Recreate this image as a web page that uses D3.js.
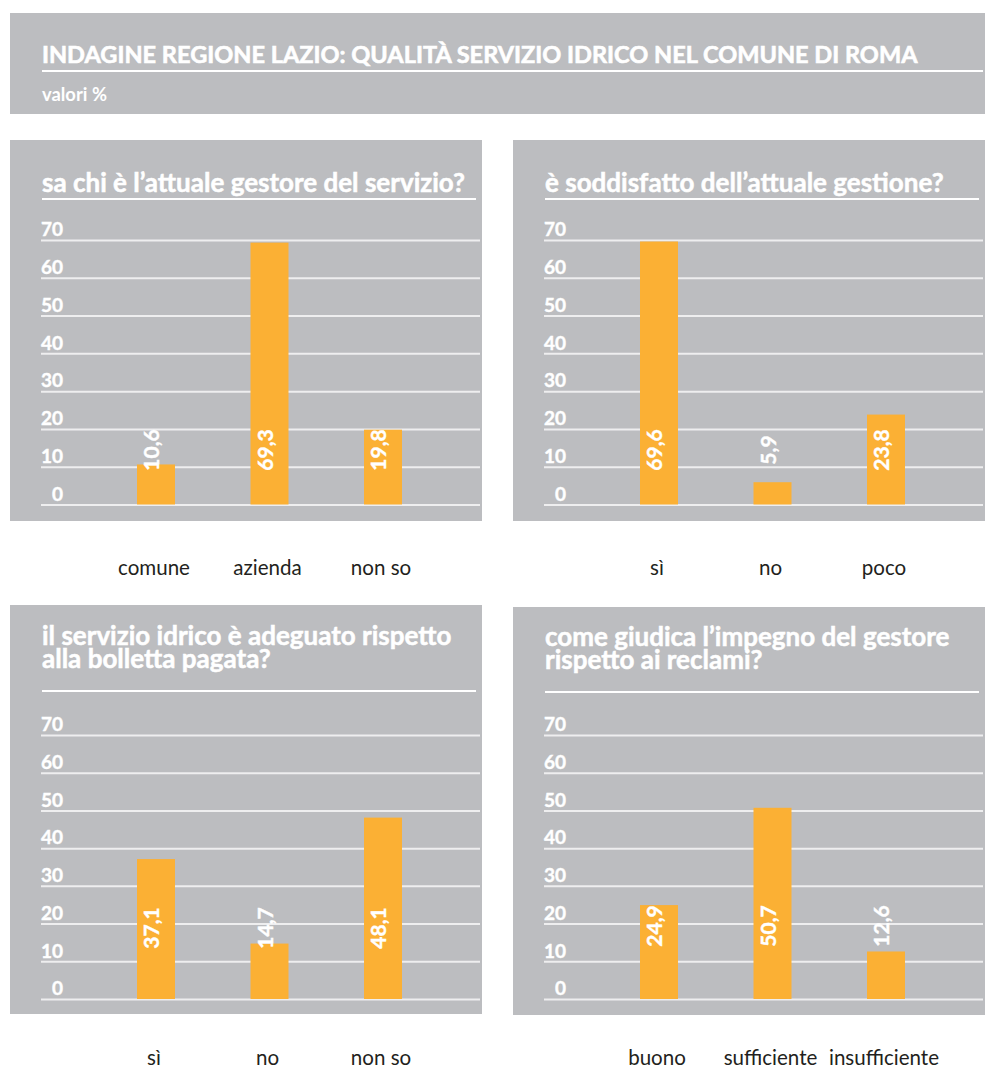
<!DOCTYPE html>
<html>
<head>
<meta charset="utf-8">
<script src="https://cdn.jsdelivr.net/npm/d3@7"></script>
<style>
  html, body { margin: 0; padding: 0; background: #ffffff; }
  svg { display: block; }
</style>
</head>
<body>
<svg id="chart" width="985" height="1070"></svg>
<script>
// ---------------- DATA ----------------
const mainTitle = "INDAGINE REGIONE LAZIO: QUALITÀ SERVIZIO IDRICO NEL COMUNE DI ROMA";
const subTitle = "valori %";

const title1 = ["sa chi è l’attuale gestore del servizio?"];
const categories1 = ["comune", "azienda", "non so"];
const values1 = [10.6, 69.3, 19.8];

const title2 = ["è soddisfatto dell’attuale gestione?"];
const categories2 = ["sì", "no", "poco"];
const values2 = [69.6, 5.9, 23.8];

const title3 = ["il servizio idrico è adeguato rispetto", "alla bolletta pagata?"];
const categories3 = ["sì", "no", "non so"];
const values3 = [37.1, 14.7, 48.1];

const title4 = ["come giudica l’impegno del gestore", "rispetto ai reclami?"];
const categories4 = ["buono", "sufficiente", "insufficiente"];
const values4 = [24.9, 50.7, 12.6];

const yTicks = [0, 10, 20, 30, 40, 50, 60, 70];
const yMax = 70;

// ---------------- LAYOUT / STYLE ----------------
const GRAY = "#bcbdc0";
const ORANGE = "#fbb034";
const WHITE = "#ffffff";
const GRID = "#eeeeef";
const DARK = "#231f20";
const FONT = "Lato, 'Open Sans', 'DejaVu Sans', sans-serif";

const panels = [
  { title: title1, cats: categories1, vals: values1,
    x: 10, y: 140, w: 472, h: 381, titleBase: 192, ul: 199, y0: 504.5, yTop: 240, labelMid: 450, catBase: 575 },
  { title: title2, cats: categories2, vals: values2,
    x: 513, y: 140, w: 472, h: 381, titleBase: 192, ul: 199, y0: 504.5, yTop: 240, labelMid: 450, catBase: 575 },
  { title: title3, cats: categories3, vals: values3,
    x: 10, y: 605, w: 472, h: 409, titleBase: 645, ul: 691, y0: 999, yTop: 735, labelMid: 928, catBase: 1065 },
  { title: title4, cats: categories4, vals: values4,
    x: 513, y: 607, w: 472, h: 408, titleBase: 646, ul: 692, y0: 999, yTop: 735, labelMid: 926, catBase: 1065 }
];

const it = d3.formatLocale({ decimal: ",", thousands: ".", grouping: [3], currency: ["€", ""] });
const fmt = it.format(".1f");

const svg = d3.select("#chart");

function fitWidth(sel, target) {
  const w = sel.node().getComputedTextLength();
  const fs = parseFloat(sel.attr("font-size"));
  const nfs = fs * target / w;
  sel.attr("font-size", nfs);
  return nfs;
}

// ---------------- HEADER ----------------
svg.append("rect").attr("x", 10).attr("y", 13).attr("width", 975).attr("height", 101).attr("fill", GRAY);
const mt = svg.append("text")
  .attr("x", 42).attr("y", 63)
  .attr("font-family", FONT).attr("font-weight", 700).attr("font-size", 20)
  .attr("fill", WHITE).attr("stroke", WHITE).attr("stroke-width", 0.6)
  .text(mainTitle);
fitWidth(mt, 876);
svg.append("rect").attr("x", 42).attr("y", 70).attr("width", 941).attr("height", 2).attr("fill", WHITE);
const st = svg.append("text")
  .attr("x", 42).attr("y", 101)
  .attr("font-family", FONT).attr("font-weight", 700).attr("font-size", 14)
  .attr("fill", WHITE).text(subTitle);
fitWidth(st, 65);

// Determine common font sizes from reference widths
const probe = svg.append("text").attr("font-family", FONT).attr("font-weight", 700)
  .attr("font-size", 20).text(title1[0]);
const titleFS = fitWidth(probe, 423);
probe.remove();
const probe2 = svg.append("text").attr("font-family", FONT).attr("font-weight", 400)
  .attr("font-size", 18).text(categories1[0]);
const catFS = fitWidth(probe2, 72);
probe2.remove();

// ---------------- PANELS ----------------
panels.forEach(p => {
  const g = svg.append("g");
  g.append("rect").attr("x", p.x).attr("y", p.y).attr("width", p.w).attr("height", p.h).attr("fill", GRAY);

  // title (one text element, one tspan per line)
  const tt = g.append("text")
    .attr("x", p.x + 32).attr("y", p.titleBase)
    .attr("font-family", FONT).attr("font-weight", 700).attr("font-size", titleFS)
    .attr("fill", WHITE).attr("stroke", WHITE).attr("stroke-width", 0.5);
  p.title.forEach((line, i) => {
    tt.append("tspan").attr("x", p.x + 32).attr("y", p.titleBase + i * 23).text(line);
  });
  g.append("rect").attr("x", p.x + 32).attr("y", p.ul - 1).attr("width", 434).attr("height", 2).attr("fill", WHITE);

  // scales
  const y = d3.scaleLinear().domain([0, yMax]).range([p.y0, p.yTop]);
  const x = d3.scalePoint().domain(p.cats).range([p.x + 146, p.x + 373]);
  const axisX = p.x + 31;
  const gridLen = p.w - 33;

  // axis with gridlines
  const ax = g.append("g")
    .attr("transform", `translate(${axisX},0)`)
    .call(d3.axisLeft(y).tickValues(yTicks).tickSize(-gridLen).tickFormat(d3.format("d")));
  ax.select(".domain").remove();
  ax.selectAll(".tick line").attr("stroke", GRID).attr("stroke-width", 2);
  ax.selectAll(".tick text")
    .attr("x", 22).attr("dy", "-0.22em")
    .attr("text-anchor", "end")
    .attr("font-family", FONT).attr("font-weight", 700).attr("font-size", 19)
    .attr("fill", WHITE).attr("stroke", WHITE).attr("stroke-width", 0.4);

  // bars
  const bw = 38;
  g.selectAll("rect.bar").data(p.vals).join("rect")
    .attr("class", "bar")
    .attr("x", (d, i) => x(p.cats[i]) - bw / 2)
    .attr("y", d => y(d))
    .attr("width", bw)
    .attr("height", d => y(0) - y(d))
    .attr("fill", ORANGE);

  // value labels (rotated)
  g.selectAll("text.val").data(p.vals).join("text")
    .attr("class", "val")
    .attr("transform", (d, i) => `translate(${x(p.cats[i]) + 3},${p.labelMid}) rotate(-90)`)
    .attr("text-anchor", "middle")
    .attr("font-family", FONT).attr("font-weight", 700).attr("font-size", 21)
    .attr("fill", WHITE).attr("stroke", WHITE).attr("stroke-width", 0.4)
    .text(d => fmt(d));

  // category labels
  g.selectAll("text.cat").data(p.cats).join("text")
    .attr("class", "cat")
    .attr("x", d => x(d) - 2)
    .attr("y", p.catBase)
    .attr("text-anchor", "middle")
    .attr("font-family", FONT).attr("font-weight", 400).attr("font-size", catFS)
    .attr("fill", DARK)
    .text(d => d);
});
</script>
</body>
</html>
